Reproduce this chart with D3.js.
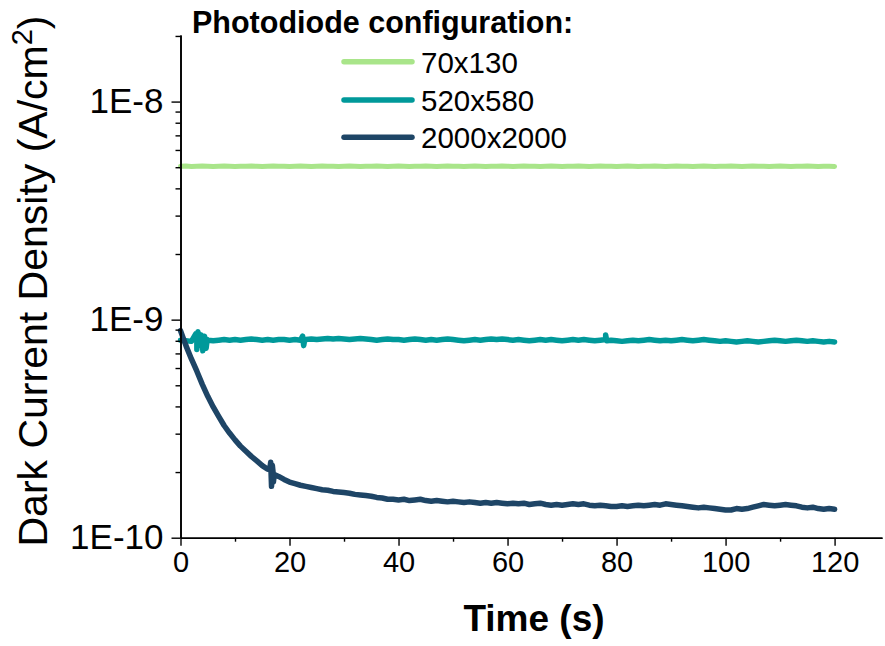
<!DOCTYPE html>
<html>
<head>
<meta charset="utf-8">
<script src="https://cdn.jsdelivr.net/npm/d3@7"></script>
<style>
  body { margin: 0; background: #fff; }
  svg { font-family: Arial, "Liberation Sans", sans-serif; }
</style>
</head>
<body>
<script>
// values are in units of 1E-10 A/cm2, one sample per second (0..120 s)
var unit = 1e-10;

var seriesNames = ["70x130", "520x580", "2000x2000"];
var seriesColors = ["#a9e58a", "#00999a", "#1e4566"];

var pd70 = [
  50.5, 50.6, 50.4, 50.5, 50.6, 50.5, 50.4, 50.5, 50.6, 50.5,
  50.4, 50.5, 50.5, 50.6, 50.5, 50.4, 50.5, 50.6, 50.5, 50.5,
  50.4, 50.5, 50.6, 50.5, 50.4, 50.5, 50.6, 50.5, 50.5, 50.4,
  50.5, 50.6, 50.5, 50.4, 50.5, 50.5, 50.6, 50.5, 50.4, 50.5,
  50.6, 50.5, 50.4, 50.5, 50.5, 50.6, 50.5, 50.4, 50.5, 50.6,
  50.5, 50.5, 50.4, 50.5, 50.6, 50.5, 50.4, 50.5, 50.5, 50.6,
  50.5, 50.4, 50.5, 50.6, 50.5, 50.5, 50.4, 50.5, 50.6, 50.5,
  50.4, 50.5, 50.5, 50.6, 50.5, 50.4, 50.5, 50.6, 50.5, 50.5,
  50.4, 50.5, 50.6, 50.5, 50.4, 50.5, 50.5, 50.6, 50.5, 50.4,
  50.5, 50.6, 50.5, 50.5, 50.4, 50.5, 50.6, 50.5, 50.4, 50.5,
  50.5, 50.6, 50.5, 50.4, 50.5, 50.6, 50.5, 50.5, 50.4, 50.5,
  50.6, 50.5, 50.4, 50.5, 50.5, 50.6, 50.5, 50.4, 50.5, 50.5,
  50.4
];

var pd520 = [
  8.05, 8.00, 7.95, 8.00, 8.00, 8.05, 8.00, 8.05, 8.10, 8.05,
  8.10, 8.05, 8.10, 8.15, 8.10, 8.05, 8.10, 8.05, 8.10, 8.10,
  8.05, 8.10, 8.05, 8.10, 8.15, 8.10, 8.15, 8.20, 8.15, 8.20,
  8.15, 8.10, 8.15, 8.20, 8.15, 8.10, 8.05, 8.10, 8.15, 8.10,
  8.10, 8.05, 8.10, 8.15, 8.10, 8.05, 8.10, 8.05, 8.10, 8.15,
  8.10, 8.05, 8.00, 8.05, 8.10, 8.05, 8.10, 8.15, 8.10, 8.15,
  8.10, 8.05, 8.10, 8.05, 8.00, 8.05, 8.10, 8.05, 8.10, 8.05,
  8.00, 8.05, 8.10, 8.05, 8.10, 8.05, 8.00, 8.05, 8.10, 8.05,
  8.00, 7.95, 8.00, 8.05, 8.00, 8.05, 8.10, 8.05, 8.00, 8.05,
  8.00, 8.05, 8.10, 8.05, 8.00, 8.05, 8.10, 8.05, 8.00, 7.95,
  8.00, 7.95, 7.90, 7.95, 8.00, 7.95, 7.90, 7.95, 8.00, 8.05,
  8.00, 7.95, 8.00, 8.05, 8.00, 7.95, 8.00, 7.95, 7.90, 7.95,
  7.90
];

var pd2000 = [
  8.90, 7.60, 6.60, 5.80, 5.05, 4.45, 3.98, 3.60, 3.27, 3.02,
  2.81, 2.63, 2.49, 2.36, 2.25, 2.14, 2.06, 1.98, 1.91, 1.85,
  1.80, 1.77, 1.74, 1.72, 1.70, 1.68, 1.66, 1.65, 1.63, 1.62,
  1.61, 1.60, 1.58, 1.57, 1.56, 1.55, 1.53, 1.52, 1.50, 1.50,
  1.49, 1.50, 1.48, 1.49, 1.50, 1.48, 1.47, 1.48, 1.47, 1.46,
  1.47, 1.46, 1.45, 1.46, 1.45, 1.44, 1.45, 1.44, 1.45, 1.44,
  1.43, 1.44, 1.43, 1.44, 1.42, 1.43, 1.44, 1.42, 1.41, 1.42,
  1.41, 1.42, 1.43, 1.42, 1.43, 1.41, 1.40, 1.41, 1.40, 1.39,
  1.39, 1.40, 1.39, 1.40, 1.41, 1.40, 1.41, 1.42, 1.41, 1.43,
  1.42, 1.41, 1.40, 1.39, 1.38, 1.37, 1.38, 1.37, 1.36, 1.35,
  1.34, 1.34, 1.36, 1.35, 1.36, 1.38, 1.40, 1.42, 1.41, 1.40,
  1.41, 1.42, 1.41, 1.40, 1.38, 1.37, 1.38, 1.36, 1.35, 1.36,
  1.35
];

// short glitches between the 1 s samples: [time, value]
var spikes520 = [
  [2.8, 8.6], [3.0, 7.3], [3.2, 8.8], [3.5, 7.6], [3.8, 8.5],
  [4.1, 7.2], [4.4, 8.4], [4.7, 7.4], [4.9, 8.1],
  [22.4, 8.4], [22.6, 7.6], [22.8, 8.1],
  [78.0, 8.5], [78.2, 8.0]
];
var spikes2000 = [
  [16.4, 2.08], [16.55, 2.22], [16.7, 1.72], [16.85, 2.15], [17.05, 1.80], [17.2, 1.95]
];

var xTicks = [0, 20, 40, 60, 80, 100, 120];
var xMinor = [10, 30, 50, 70, 90, 110];
var yTicks = [1e-10, 1e-9, 1e-8];
var yTickLabels = ["1E-10", "1E-9", "1E-8"];
var yMinor = [2e-10, 3e-10, 4e-10, 5e-10, 6e-10, 7e-10, 8e-10, 9e-10,
              2e-9, 3e-9, 4e-9, 5e-9, 6e-9, 7e-9, 8e-9, 9e-9, 2e-8];

var svgWidth = 885;
var svgHeight = 646;

var svg = d3.select("body")
  .append("svg")
    .attr("width", svgWidth)
    .attr("height", svgHeight);

var x = d3.scaleLinear()
  .domain([0, 128.7])
  .range([180.5, 882]);

var y = d3.scaleLog()
  .domain([1e-10, 2.02e-8])
  .range([537.7, 35]);

function toPoints(values, spikes) {
  var pts = values.map(function(v, i) { return [i, v]; });
  (spikes || []).forEach(function(s) { pts.push(s); });
  pts.sort(function(a, b) { return a[0] - b[0]; });
  return pts;
}

var series = [
  toPoints(pd70),
  toPoints(pd520, spikes520),
  toPoints(pd2000, spikes2000)
];

var line = d3.line()
  .x(function(d) { return x(d[0]); })
  .y(function(d) { return y(d[1] * unit); });

svg.append("g")
  .selectAll("path")
  .data(series)
  .enter()
  .append("path")
    .attr("d", line)
    .attr("fill", "none")
    .attr("stroke", function(d, i) { return seriesColors[i]; })
    .attr("stroke-width", function(d, i) { return i == 0 ? 5 : 5.5; })
    .attr("stroke-linejoin", "round")
    .attr("stroke-linecap", "round");

// x axis
var xAxis = svg.append("g")
  .attr("transform", "translate(0," + y(1e-10) + ")");
xAxis.call(d3.axisBottom(x).tickValues(xTicks).tickSize(8).tickPadding(6).tickSizeOuter(0));
xAxis.append("g")
  .call(d3.axisBottom(x).tickValues(xMinor).tickSize(4).tickFormat("").tickSizeOuter(0));
xAxis.selectAll("path.domain").attr("stroke-width", 1.6);
xAxis.selectAll("line").attr("stroke-width", 1.4);
xAxis.selectAll("text")
  .attr("font-size", 29)
  .attr("fill", "#000")
  .attr("font-family", "Arial, 'Liberation Sans', sans-serif");

// y axis
var yAxis = svg.append("g")
  .attr("transform", "translate(" + x(0) + ",0)");
yAxis.call(d3.axisLeft(y).tickValues(yTicks).tickSize(9).tickPadding(8).tickSizeOuter(0)
  .tickFormat(function(d, i) { return yTickLabels[i]; }));
yAxis.append("g")
  .call(d3.axisLeft(y).tickValues(yMinor).tickSize(5).tickFormat("").tickSizeOuter(0));
yAxis.selectAll("path.domain").attr("stroke-width", 1.6);
yAxis.selectAll("line").attr("stroke-width", 1.4);
yAxis.selectAll("text")
  .attr("font-size", 35)
  .attr("fill", "#000")
  .attr("font-family", "Arial, 'Liberation Sans', sans-serif");

// axis titles
svg.append("text")
  .attr("x", 534)
  .attr("y", 631)
  .attr("text-anchor", "middle")
  .attr("font-size", 37)
  .attr("font-weight", "bold")
  .text("Time (s)");

var yTitle = svg.append("text")
  .attr("transform", "translate(47,281) rotate(-90)")
  .attr("text-anchor", "middle")
  .attr("font-size", 41);
yTitle.append("tspan").text("Dark Current Density (A/cm");
yTitle.append("tspan").attr("font-size", 29).attr("dy", -15).text("2");
yTitle.append("tspan").attr("dy", 15).text(")");

// legend
svg.append("text")
  .attr("x", 192)
  .attr("y", 33)
  .attr("font-size", 30.5)
  .attr("font-weight", "bold")
  .text("Photodiode configuration:");

var legendY = [61.7, 100, 137.3];
var legend = svg.append("g")
  .selectAll("g")
  .data(seriesNames)
  .enter()
  .append("g")
    .attr("transform", function(d, i) { return "translate(0," + legendY[i] + ")"; });
legend.append("line")
  .attr("x1", 344).attr("x2", 412)
  .attr("stroke", function(d, i) { return seriesColors[i]; })
  .attr("stroke-width", 5.5)
  .attr("stroke-linecap", "round");
legend.append("text")
  .attr("x", 421)
  .attr("y", 11)
  .attr("font-size", 29.5)
  .text(function(d) { return d; });
</script>
</body>
</html>
